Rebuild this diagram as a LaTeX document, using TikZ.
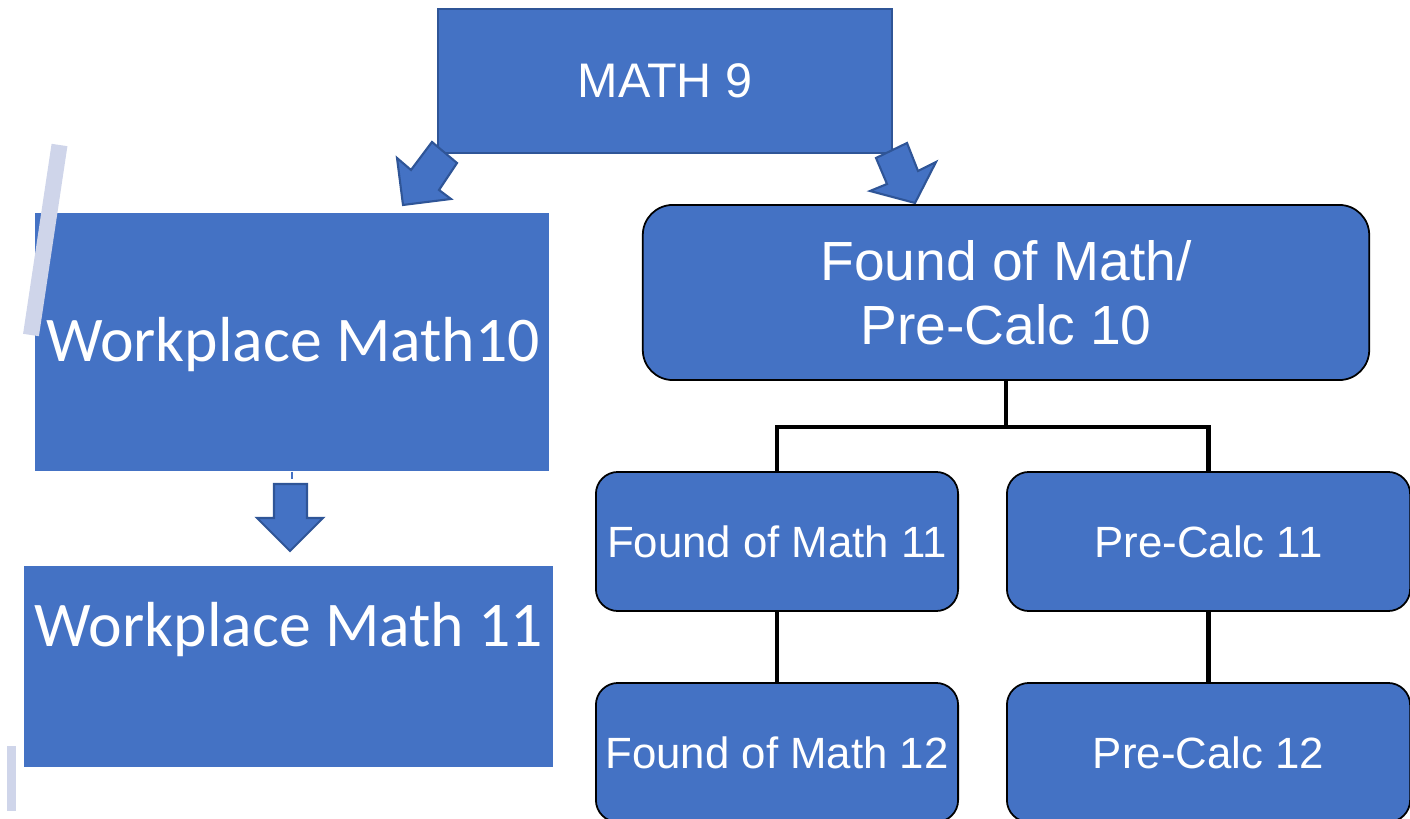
\documentclass[tikz,border=0pt]{standalone}
\usepackage{fontspec}
\setmainfont{Liberation Sans}
\newfontfamily\calibri{Carlito}
\usepackage{tikz}
\usetikzlibrary{calc}
\usetikzlibrary{positioning}
\usepackage{xcolor}
\definecolor{boxblue}{HTML}{4472C4}
\definecolor{edgeblue}{HTML}{2F5597}
\definecolor{paleblue}{HTML}{CFD5EA}

\begin{document}
\begin{tikzpicture}[x=0.01cm, y=-0.01cm,
					flat/.style={rectangle, fill=boxblue, inner sep=0, text=white},
					round/.style={rectangle, rounded corners=0.22cm, draw=black, line width=0.5pt, fill=boxblue, inner sep=0, text=white},
					big/.style={font=\fontsize{15.7}{18.2}\selectfont, align=center},
					small/.style={font=\fontsize{12.45}{15}\selectfont},
					wp/.style={font=\calibri\fontsize{18.1}{21}\selectfont, text=white},
					blockarrow/.style={fill=boxblue, draw=edgeblue, line width=0.6pt, line join=miter},
					link/.style={draw=black, line width=1.4pt, line join=miter}
					]
					
					\useasboundingbox (0,0) rectangle (1410,819);
					\clip (0,0) rectangle (1410,819);
					
					%Nodes
					\node[flat, draw=edgeblue, line width=0.6pt, minimum width=4.54cm, minimum height=1.44cm,
						  font=\fontsize{13.8}{16}\selectfont] (math9) at (665,81) {MATH 9};
					\node[flat, minimum width=5.14cm, minimum height=2.58cm] (wm10) at (292,342) {};
					\node[wp] (wm10text) at (293,345) {Workplace Math10};
					\node[flat, minimum width=5.29cm, minimum height=2.01cm] (wm11) at (288.5,666.5) {};
					\node[wp] (wm11text) at (289,630) {Workplace Math 11};
					
					\node[round, big, rounded corners=0.3cm, minimum width=7.26cm, minimum height=1.75cm] (found10) at (1006,292.5) {Found of Math/\\Pre-Calc 10};
					\node[round, small, minimum width=3.62cm, minimum height=1.39cm] (fm11) at (777,541.5) {Found of Math 11};
					\node[round, small, minimum width=4.03cm, minimum height=1.39cm] (pc11) at (1208.5,541.5) {Pre-Calc 11};
					\node[round, small, minimum width=3.62cm, minimum height=1.39cm] (fm12) at (777,752.5) {Found of Math 12};
					\node[round, small, minimum width=4.03cm, minimum height=1.39cm] (pc12) at (1208.5,752.5) {Pre-Calc 12};
					
					%Lines
					\coordinate (split) at (1006,427);
					\draw[link] (found10.south) -- (split) -| (fm11.north);
					\draw[link] (split) -| (pc11.north);
					\draw[link] (fm11.south) -- (fm12.north);
					\draw[link] (pc11.south) -- (pc12.north);
					
					%Arrows
					\draw[blockarrow] (432,142) -- (411,170) -- (397,158) -- (403,205) -- (451,199) -- (439,190) -- (457,163) -- cycle;
					\draw[blockarrow] (876,158) -- (907,143) -- (918,171) -- (936,162) -- (915,203) -- (870,191) -- (887,184) -- cycle;
					\draw[draw=boxblue, line width=0.4pt] (wm10.south) -- ++(0,7);
					\draw[blockarrow] (274,484) -- (307,484) -- (307,518) -- (323,518) -- (290,551) -- (257,518) -- (274,518) -- cycle;
					
					%Bars
					\draw[paleblue, line width=0.16cm] (59.5,145) -- (31,335);
					\fill[paleblue] (7,746) rectangle (16,811);
				\end{tikzpicture}
\end{document}
